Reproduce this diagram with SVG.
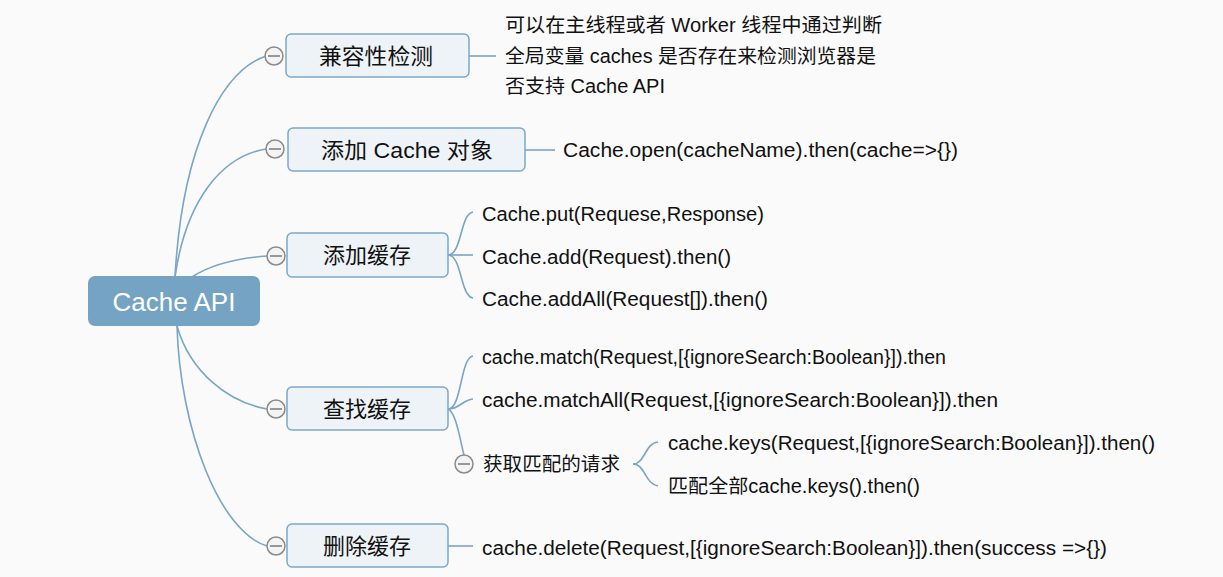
<svg xmlns="http://www.w3.org/2000/svg" width="1223" height="577" viewBox="0 0 1223 577">
<style>
.bg{fill:#fafafa}
.con{fill:none;stroke:#78a5c8;stroke-width:1.6}
.box{fill:#eef3f7;stroke:#7ea8c9;stroke-width:1.5}
.root{fill:#74a3c4}
.tog circle{fill:#f4f4f4;stroke:#8a8a8a;stroke-width:1.5}
.tog line{stroke:#7a7a7a;stroke-width:1.5}
text{font-family:"Liberation Sans","Noto Sans CJK SC",sans-serif;fill:#111}
.nt{font-size:22px;text-anchor:middle}
.rt{font-size:26px;fill:#fff;text-anchor:middle}
.lt{font-size:19.5px}
</style>
<defs>
<g id="tg" class="tog"><circle r="9"/><line x1="-6" y1="0" x2="6" y2="0"/></g>
</defs>
<rect class="bg" width="1223" height="577"/>
<g id="connectors">
<path class="con" d="M175,277 C182,150 220,72 266,56"/>
<path class="con" d="M175,277 C186,200 222,156 266,149"/>
<path class="con" d="M192,277 C212,264 240,258 267,256"/>
<path class="con" d="M177,326 C190,372 228,402 267,409"/>
<path class="con" d="M177,326 C180,430 220,532 267,546"/>
<path class="con" d="M469,56 L496,56"/>
<path class="con" d="M525,150 L555,150"/>
<path class="con" d="M448,255 C462,255 460,214 473,212"/>
<path class="con" d="M448,255 L473,255"/>
<path class="con" d="M448,255 C462,255 460,296 473,298"/>
<path class="con" d="M448,409 C462,409 460,358 473,356"/>
<path class="con" d="M448,409 C460,409 462,400 473,399"/>
<path class="con" d="M448,409 C456,412 460,440 464,455"/>
<path class="con" d="M633,464 C645,464 645,443 658,442"/>
<path class="con" d="M633,464 C645,464 645,484 658,486"/>
<path class="con" d="M448,546 L473,546"/>
</g>
<g id="root"><rect class="root" x="88" y="276" width="172" height="50" rx="7"/><text class="rt" x="174" y="311">Cache API</text></g>
<g id="n1"><rect class="box" x="286" y="34" width="183" height="43" rx="5"/><text class="nt" x="376" y="64" textLength="114" lengthAdjust="spacingAndGlyphs">兼容性检测</text><use href="#tg" x="274" y="56"/></g>
<g id="n1-desc"><text class="lt" x="505" y="32" textLength="377" lengthAdjust="spacingAndGlyphs">可以在主线程或者 Worker 线程中通过判断</text><text class="lt" x="505" y="63" textLength="371" lengthAdjust="spacingAndGlyphs">全局变量 caches 是否存在来检测浏览器是</text><text class="lt" x="505" y="93" textLength="160" lengthAdjust="spacingAndGlyphs">否支持 Cache API</text></g>
<g id="n2"><rect class="box" x="288" y="128" width="237" height="43" rx="5"/><text class="nt" x="407" y="158" textLength="172" lengthAdjust="spacingAndGlyphs">添加 Cache 对象</text><use href="#tg" x="275" y="149"/></g>
<g id="n2-open"><text class="lt" x="563" y="157" textLength="395" lengthAdjust="spacingAndGlyphs">Cache.open(cacheName).then(cache=&gt;{})</text></g>
<g id="n3"><rect class="box" x="287" y="233" width="161" height="44" rx="5"/><text class="nt" x="367" y="263">添加缓存</text><use href="#tg" x="276" y="256"/></g>
<g id="n3-put"><text class="lt" x="482" y="221" textLength="282" lengthAdjust="spacingAndGlyphs">Cache.put(Requese,Response)</text></g>
<g id="n3-add"><text class="lt" x="482" y="264" textLength="249" lengthAdjust="spacingAndGlyphs">Cache.add(Request).then()</text></g>
<g id="n3-addall"><text class="lt" x="482" y="306" textLength="286" lengthAdjust="spacingAndGlyphs">Cache.addAll(Request[]).then()</text></g>
<g id="n4"><rect class="box" x="287" y="387" width="161" height="43" rx="5"/><text class="nt" x="367" y="417">查找缓存</text><use href="#tg" x="276" y="409"/></g>
<g id="n4-match"><text class="lt" x="482" y="364" textLength="464" lengthAdjust="spacingAndGlyphs">cache.match(Request,[{ignoreSearch:Boolean}]).then</text></g>
<g id="n4-matchall"><text class="lt" x="482" y="407" textLength="516" lengthAdjust="spacingAndGlyphs">cache.matchAll(Request,[{ignoreSearch:Boolean}]).then</text></g>
<g id="n4-keys"><text class="lt" x="483" y="471" textLength="137" lengthAdjust="spacingAndGlyphs">获取匹配的请求</text><use href="#tg" x="464" y="464"/></g>
<g id="n4-keys-1"><text class="lt" x="668" y="450" textLength="487" lengthAdjust="spacingAndGlyphs">cache.keys(Request,[{ignoreSearch:Boolean}]).then()</text></g>
<g id="n4-keys-2"><text class="lt" x="668" y="493" textLength="252" lengthAdjust="spacingAndGlyphs">匹配全部cache.keys().then()</text></g>
<g id="n5"><rect class="box" x="287" y="524" width="161" height="43" rx="5"/><text class="nt" x="367" y="554">删除缓存</text><use href="#tg" x="276" y="546"/></g>
<g id="n5-delete"><text class="lt" x="482" y="555" textLength="625" lengthAdjust="spacingAndGlyphs">cache.delete(Request,[{ignoreSearch:Boolean}]).then(success =&gt;{})</text></g>
</svg>
